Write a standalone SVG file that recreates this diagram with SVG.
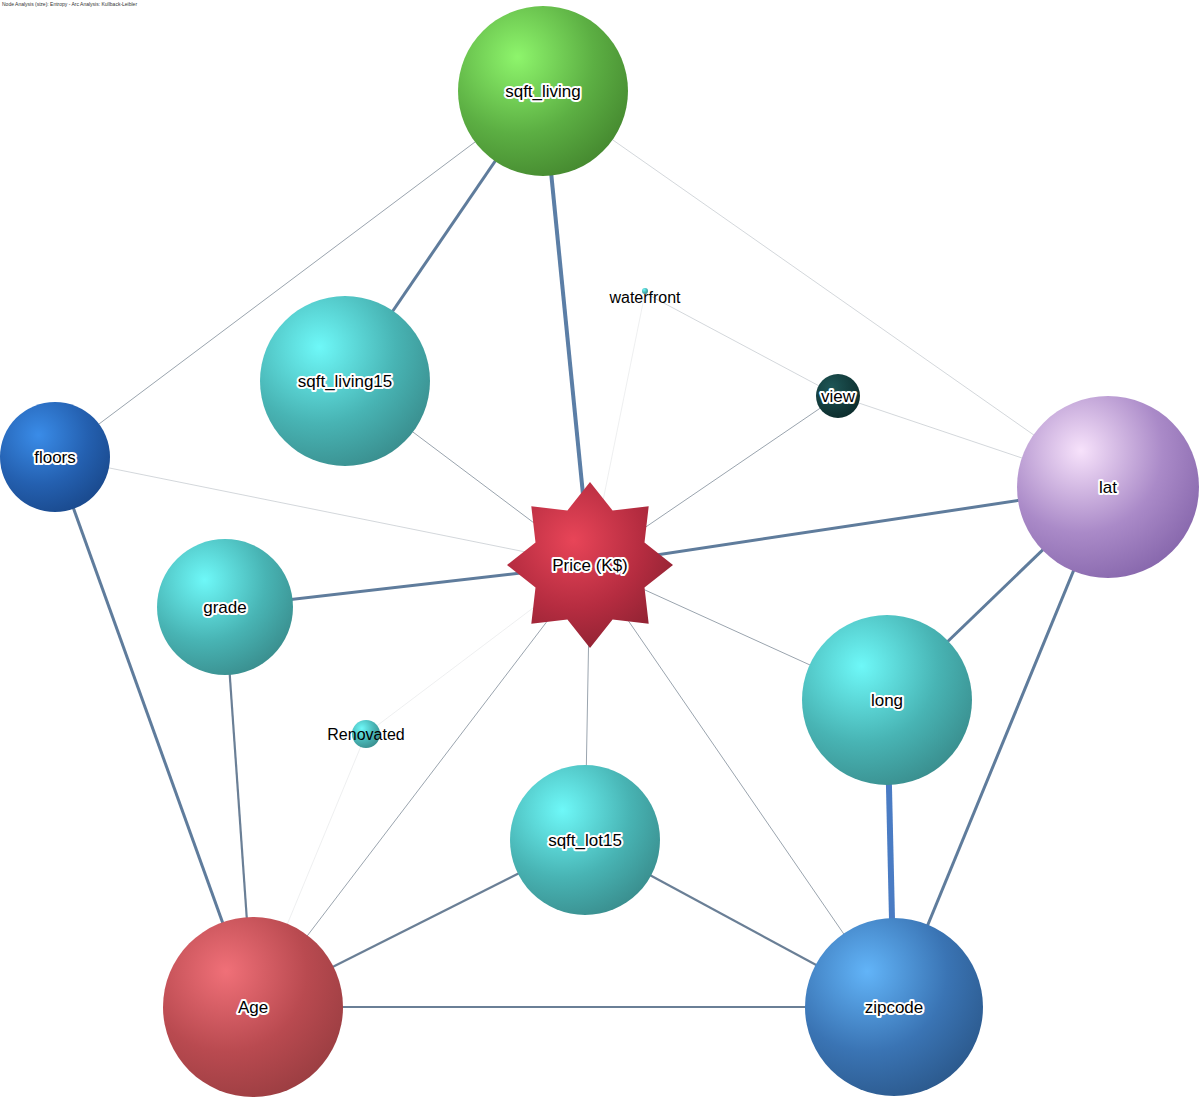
<svg xmlns="http://www.w3.org/2000/svg" width="1200" height="1098" viewBox="0 0 1200 1098">
<defs>
<radialGradient id="gGreen" cx="0.35" cy="0.3" r="0.75"><stop offset="0" stop-color="#8ef56c"/><stop offset="0.6" stop-color="#5caf43"/><stop offset="1" stop-color="#468a30"/></radialGradient>
<radialGradient id="gTeal" cx="0.35" cy="0.3" r="0.75"><stop offset="0" stop-color="#6ef8f8"/><stop offset="0.6" stop-color="#48b4b4"/><stop offset="1" stop-color="#3a8f8f"/></radialGradient>
<radialGradient id="gBlue" cx="0.35" cy="0.3" r="0.75"><stop offset="0" stop-color="#3a8ce8"/><stop offset="0.6" stop-color="#2460b0"/><stop offset="1" stop-color="#1a4a8e"/></radialGradient>
<radialGradient id="gLat" cx="0.35" cy="0.3" r="0.75"><stop offset="0" stop-color="#f7e2fb"/><stop offset="0.6" stop-color="#aa8ac8"/><stop offset="1" stop-color="#8868ad"/></radialGradient>
<radialGradient id="gAge" cx="0.35" cy="0.3" r="0.75"><stop offset="0" stop-color="#f07078"/><stop offset="0.6" stop-color="#b94a50"/><stop offset="1" stop-color="#9c3e42"/></radialGradient>
<radialGradient id="gZip" cx="0.35" cy="0.3" r="0.75"><stop offset="0" stop-color="#62b4f8"/><stop offset="0.6" stop-color="#3a74b4"/><stop offset="1" stop-color="#2c5a8e"/></radialGradient>
<radialGradient id="gView" cx="0.35" cy="0.3" r="0.75"><stop offset="0" stop-color="#1e5656"/><stop offset="1" stop-color="#0c2c2c"/></radialGradient>
<radialGradient id="gPrice" cx="0.4" cy="0.35" r="0.7"><stop offset="0" stop-color="#e84558"/><stop offset="0.6" stop-color="#b52c40"/><stop offset="1" stop-color="#8e2232"/></radialGradient>
</defs>
<style>
.lbl{font-family:"Liberation Sans",Arial,sans-serif;font-size:17px;fill:#000;stroke:#fff;stroke-width:4px;stroke-linejoin:round;paint-order:stroke;text-anchor:middle;dominant-baseline:central}
.plain{font-family:"Liberation Sans",Arial,sans-serif;font-size:16px;fill:#000;text-anchor:middle;dominant-baseline:central}
.e{stroke:#61799a;fill:none}
.w4{stroke-width:4px;stroke:#5b7ea6}
.w3{stroke-width:3px;stroke:#5f7c9c}
.w2{stroke-width:2.2px;stroke:#6a7f96}
.w1{stroke-width:1px;stroke:#9aa4ae}
.w05{stroke-width:0.8px;stroke:#c8cdd2}
.w02{stroke-width:0.6px;stroke:#e2e4e6}
.w6{stroke-width:6px;stroke:#4a7cc4}
</style>
<text x="2" y="6" font-family="Liberation Sans,Arial,sans-serif" font-size="5" fill="#333">Node Analysis (size): Entropy - Arc Analysis: Kullback-Leibler</text>
<g id="connectors">
<line class="e w1" x1="543" y1="91" x2="55" y2="457"/>
<line class="e w05" x1="543" y1="91" x2="1108" y2="487"/>
<line class="e w3" x1="543" y1="91" x2="345" y2="381"/>
<line class="e w4" x1="543" y1="91" x2="590" y2="565"/>
<line class="e w05" x1="55" y1="457" x2="590" y2="565"/>
<line class="e w3" x1="55" y1="457" x2="253" y2="1007"/>
<line class="e w1" x1="345" y1="381" x2="590" y2="565"/>
<line class="e w02" x1="645" y1="293" x2="590" y2="565"/>
<line class="e w05" x1="645" y1="293" x2="838" y2="396"/>
<line class="e w1" x1="838" y1="396" x2="590" y2="565"/>
<line class="e w05" x1="838" y1="396" x2="1108" y2="487"/>
<line class="e w3" x1="1108" y1="487" x2="590" y2="565"/>
<line class="e w3" x1="1108" y1="487" x2="887" y2="700"/>
<line class="e w3" x1="1108" y1="487" x2="894" y2="1007"/>
<line class="e w1" x1="887" y1="700" x2="590" y2="565"/>
<line class="e w6" x1="887" y1="700" x2="894" y2="1007"/>
<line class="e w3" x1="225" y1="607" x2="590" y2="565"/>
<line class="e w2" x1="225" y1="607" x2="253" y2="1007"/>
<line class="e w02" x1="366" y1="734" x2="253" y2="1007"/>
<line class="e w02" x1="366" y1="734" x2="590" y2="565"/>
<line class="e w1" x1="253" y1="1007" x2="590" y2="565"/>
<line class="e w2" x1="253" y1="1007" x2="585" y2="840"/>
<line class="e w2" x1="253" y1="1007" x2="894" y2="1007"/>
<line class="e w1" x1="585" y1="840" x2="590" y2="565"/>
<line class="e w2" x1="585" y1="840" x2="894" y2="1007"/>
<line class="e w1" x1="894" y1="1007" x2="590" y2="565"/>
</g>
<g id="node-sqft_living"><circle cx="543" cy="91" r="85" fill="url(#gGreen)"/><text class="lbl" x="543" y="91">sqft_living</text></g>
<g id="node-sqft_living15"><circle cx="345" cy="381" r="85" fill="url(#gTeal)"/><text class="lbl" x="345" y="381">sqft_living15</text></g>
<g id="node-floors"><circle cx="55" cy="457" r="55" fill="url(#gBlue)"/><text class="lbl" x="55" y="457">floors</text></g>
<g id="node-grade"><circle cx="225" cy="607" r="68" fill="url(#gTeal)"/><text class="lbl" x="225" y="607">grade</text></g>
<g id="node-waterfront"><circle cx="645" cy="291" r="3" fill="url(#gTeal)"/><text class="plain" x="645" y="297">waterfront</text></g>
<g id="node-view"><circle cx="838" cy="396" r="22" fill="url(#gView)"/><text class="lbl" x="838" y="396">view</text></g>
<g id="node-lat"><circle cx="1108" cy="487" r="91" fill="url(#gLat)"/><text class="lbl" x="1108" y="487">lat</text></g>
<g id="node-long"><circle cx="887" cy="700" r="85" fill="url(#gTeal)"/><text class="lbl" x="887" y="700">long</text></g>
<g id="node-Renovated"><circle cx="366" cy="734" r="14" fill="url(#gTeal)"/><text class="plain" x="366" y="734">Renovated</text></g>
<g id="node-sqft_lot15"><circle cx="585" cy="840" r="75" fill="url(#gTeal)"/><text class="lbl" x="585" y="840">sqft_lot15</text></g>
<g id="node-Age"><circle cx="253" cy="1007" r="90" fill="url(#gAge)"/><text class="lbl" x="253" y="1007">Age</text></g>
<g id="node-zipcode"><circle cx="894" cy="1007" r="89" fill="url(#gZip)"/><text class="lbl" x="894" y="1007">zipcode</text></g>
<g id="node-price"><polygon fill="url(#gPrice)" points="590,482 612.6,510.5 648.7,506.3 644.5,542.4 673,565 644.5,587.6 648.7,623.7 612.6,619.5 590,648 567.4,619.5 531.3,623.7 535.5,587.6 507,565 535.5,542.4 531.3,506.3 567.4,510.5"/><text class="lbl" x="590" y="565">Price (K$)</text></g>
</svg>
